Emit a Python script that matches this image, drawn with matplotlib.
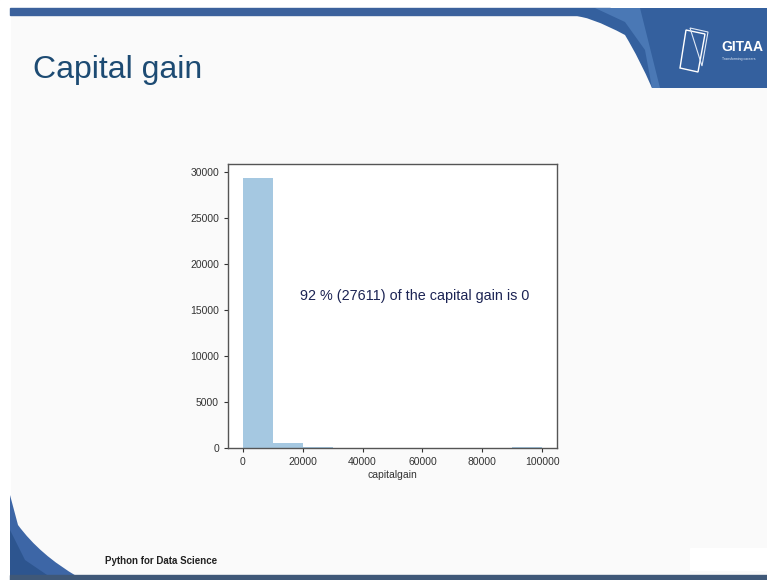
import numpy as np
import matplotlib
matplotlib.use("Agg")
import matplotlib.pyplot as plt
from matplotlib import font_manager
from matplotlib.patches import Polygon, Rectangle, PathPatch
from matplotlib.path import Path

# ---------------- data ----------------
gain_min = 0
gain_max = 99999
bin_counts = [29400, 520, 110, 8, 0, 6, 0, 0, 0, 150]
x_ticks = [0, 20000, 40000, 60000, 80000, 100000]
y_ticks = [0, 5000, 10000, 15000, 20000, 25000, 30000]
annotation = "92 % (27611) of the capital gain is 0"
title_text = "Capital gain"
footer_text = "Python for Data Science"
x_label = "capitalgain"

names = {f.name for f in font_manager.fontManager.ttflist}
narrow = "Liberation Sans Narrow" if "Liberation Sans Narrow" in names else "Liberation Sans"

W, H = 767, 580
fig = plt.figure(figsize=(W / 100, H / 100), dpi=100, facecolor="#fafafa")

# --------- slide decoration (figure coords) ----------
deco = fig.add_axes([0, 0, 1, 1], zorder=0)
deco.set_xlim(0, W); deco.set_ylim(H, 0); deco.axis("off")
deco.add_patch(Rectangle((0, 0), W, 8, color="white"))
deco.add_patch(Rectangle((0, 0), 10, H, color="white"))
deco.add_patch(Rectangle((10, 8), 600, 7, color="#3b619c"))
verts = [(570, 8), (767, 8), (767, 88), (652, 88), (640, 60), (625, 35), (590, 16), (570, 15), (570, 8)]
codes = [Path.MOVETO, Path.LINETO, Path.LINETO, Path.LINETO, Path.CURVE3, Path.CURVE3, Path.CURVE3, Path.LINETO, Path.CLOSEPOLY]
deco.add_patch(PathPatch(Path(verts, codes), color="#34609e", lw=0))
verts2 = [(595, 8), (640, 8), (660, 88), (652, 88), (645, 50), (625, 22), (595, 8)]
deco.add_patch(Polygon(verts2, closed=True, color="#4a78b5", lw=0))
# logo outline
deco.add_patch(Polygon([(686, 30), (705, 34), (698, 72), (680, 68)], closed=True, fill=False, ec="white", lw=1))
deco.add_patch(Polygon([(690, 28), (708, 32), (702, 66)], closed=True, fill=False, ec="#dfe8f5", lw=0.8))
deco.text(721, 47, "GITAA", color="white", fontsize=10, fontweight="bold", family=narrow, va="center", ha="left")
deco.text(722, 59, "Transforming careers", color="#dfe8f5", fontsize=2.5, family=narrow, va="center", ha="left")
# bottom-left swoosh
vb = [(10, 495), (10, 577), (78, 577), (40, 555), (18, 525), (10, 495)]
cb = [Path.MOVETO, Path.LINETO, Path.LINETO, Path.CURVE3, Path.CURVE3, Path.CLOSEPOLY]
deco.add_patch(PathPatch(Path(vb, cb), color="#3d66a6", lw=0))
vb2 = [(10, 530), (10, 577), (50, 577), (25, 560), (10, 530)]
deco.add_patch(Polygon(vb2, closed=True, color="#2d558f", lw=0))
deco.add_patch(Rectangle((10, 575), W - 10, 5, color="#3f5878"))
deco.add_patch(Rectangle((690, 548), 77, 22, color="white"))

fig.text(33 / W, 1 - 70 / H, title_text, family=narrow, fontsize=23, color="#1d4b73", va="center", ha="left")
fig.text(105 / W, 1 - 561 / H, footer_text, family=narrow, fontsize=7, fontweight="bold", color="#222222", va="center", ha="left")

# ---------------- chart ----------------
ax = fig.add_axes([228 / W, 1 - 448 / H, 329 / W, 284 / H], zorder=1)
ax.set_facecolor("white")
edges = np.linspace(gain_min, gain_max, len(bin_counts) + 1)
centers = (edges[:-1] + edges[1:]) / 2
ax.hist(centers, bins=edges, weights=bin_counts, color="#1f77b4", alpha=0.4)
ax.set_xticks(x_ticks)
ax.set_yticks(y_ticks)
ax.tick_params(colors="#333333", length=3)
for lab in ax.get_xticklabels() + ax.get_yticklabels():
    lab.set_family(narrow)
    lab.set_fontsize(7.5)
ax.set_xlabel(x_label, fontsize=7.5, family=narrow, color="#333333", labelpad=2)
for s in ax.spines.values():
    s.set_color("#555555")
    s.set_linewidth(1.0)
ax.text(19000, 16540, annotation, family=narrow, fontsize=10.4, color="#1c2454", ha="left", va="center")

fig.savefig("out.png", dpi=100, facecolor=fig.get_facecolor())
